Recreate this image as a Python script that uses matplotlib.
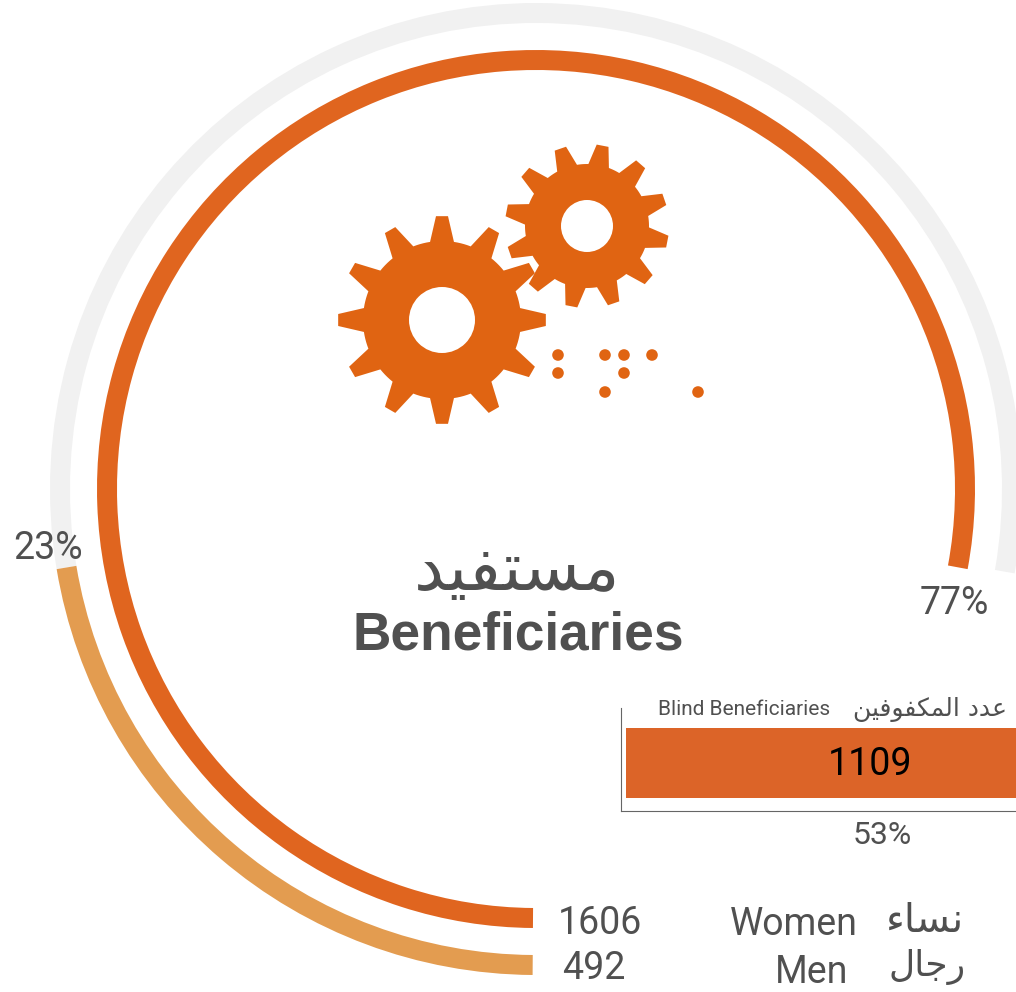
import numpy as np
import matplotlib
matplotlib.use('Agg')
import matplotlib.pyplot as plt
from matplotlib.patches import Wedge, Circle, Polygon

W = 1016
H = 992

# values
women = 1606
men = 492
blind = 1109
women_pct = '77%'
men_pct = '23%'
blind_pct = '53%'

# what a full turn of each ring stands for, read from where the arcs stop
women_ring_max = 2064
men_ring_max = 2211

# arabic in visual order, matplotlib does not shape it
ar_title = '\ufee3\ufeb4\ufe98\ufed4\ufef4\ufeaa'[::-1]
ar_blind = '\ufecb\ufeaa\ufea9 \ufe8d\ufedf\ufee4\ufedc\ufed4\ufeee\ufed3\ufef4\ufee6'[::-1]
ar_women = '\ufee7\ufeb4\ufe8e\ufe80'[::-1]
ar_men = '\ufead\ufe9f\ufe8e\ufedd'[::-1]

dots = [(558,355),(605,355),(624,355),(652,355),(558,373),(624,373),(605,392),(698,392)]

c_women = '#E0651F'
c_men = '#E39C50'
c_track = '#F1F1F1'
c_gear = '#E06412'
c_bar = '#DC6428'
c_text = '#505050'

def fy(y):
	return H - y

def gear(cx, cy, r_tip, r_root, tip_w, root_w, offset, teeth=12):
	pts = []
	for i in range(teeth):
		a = np.radians(offset + i*360.0/teeth)
		next_a = np.radians(offset + (i+1)*360.0/teeth)
		da_root = root_w/r_root
		da_tip = tip_w/r_tip
		pts.append((cx + r_root*np.cos(a-da_root), fy(cy) + r_root*np.sin(a-da_root)))
		pts.append((cx + r_tip*np.cos(a-da_tip), fy(cy) + r_tip*np.sin(a-da_tip)))
		pts.append((cx + r_tip*np.cos(a+da_tip), fy(cy) + r_tip*np.sin(a+da_tip)))
		pts.append((cx + r_root*np.cos(a+da_root), fy(cy) + r_root*np.sin(a+da_root)))
		# root follows the circle up to the next tooth
		for t in np.linspace(a+da_root, next_a-da_root, 6)[1:-1]:
			pts.append((cx + r_root*np.cos(t), fy(cy) + r_root*np.sin(t)))
	return Polygon(pts, closed=True, fc=c_gear, ec='none')

fig = plt.figure(figsize=(W/100, H/100), dpi=100)
ax = fig.add_axes([0, 0, 1, 1])
ax.set_xlim(0, W)
ax.set_ylim(0, H)
ax.axis('off')

cx = 536
cy = 489
start = 269.6

# rings
men_sweep = 360.0*men/men_ring_max
women_sweep = 360.0*women/women_ring_max
ax.add_patch(Wedge((cx, fy(cy)), 486, -10, start-men_sweep, width=20, fc=c_track, ec='none'))
ax.add_patch(Wedge((cx, fy(cy)), 486, start-men_sweep, start, width=20, fc=c_men, ec='none'))
ax.add_patch(Wedge((cx, fy(cy)), 439, start-women_sweep, start, width=20, fc=c_women, ec='none'))

# gears
ax.add_patch(gear(442, 320, 104, 79, 6, 12, 90))
ax.add_patch(Circle((442, fy(320)), 33, fc='white', ec='none'))
ax.add_patch(gear(587, 226, 82, 62, 6, 10.5, -11))
ax.add_patch(Circle((587, fy(226)), 26, fc='white', ec='none'))
for x, y in dots:
	ax.add_patch(Circle((x, fy(y)), 5.8, fc=c_gear, ec='none'))

# small bar
left = 620.5
right = 1016
bottom = 811
top = 708
bax = fig.add_axes([left/W, (H-bottom)/H, (right-left)/W, (bottom-top)/H])
bax.patch.set_alpha(0)
x_per_px = blind/(right-626.0)
bax.set_xlim(-(626-left)*x_per_px, blind)
bax.set_ylim(bottom, top)
bax.barh(763, blind, height=70, color=c_bar)
bax.set_xticks([])
bax.set_yticks([])
bax.spines['top'].set_visible(False)
bax.spines['right'].set_visible(False)
bax.spines['left'].set_color('#666666')
bax.spines['bottom'].set_color('#666666')

def label(x, y, s, size, ha='left', color=c_text, family='Roboto', weight='normal'):
	bax.text(x, fy(y), s, fontsize=size, ha=ha, va='baseline', color=color,
		family=family, fontweight=weight, transform=ax.transData, clip_on=False)

label(518.5, 650, 'Beneficiaries', 38.3, ha='center', family='Liberation Sans', weight='bold')
label(517.5, 590, ar_title, 48.5, ha='center', family='DejaVu Sans')

label(954, 614, women_pct, 27, ha='center')
label(48.5, 559, men_pct, 27, ha='center')
label(882.5, 844, blind_pct, 23, ha='center')
label(870, 775, str(blind), 27, ha='center', color='black')

label(744.5, 715, 'Blind Beneficiaries', 15, ha='center')
label(930, 716, ar_blind, 18, ha='center', family='DejaVu Sans')

label(600, 934, str(women), 27, ha='center')
label(594, 979, str(men), 27, ha='center')
label(793.5, 935, 'Women', 27, ha='center')
label(812, 983, 'Men', 27, ha='center')
label(924.5, 932, ar_women, 29, ha='center', family='DejaVu Sans')
label(927.5, 976, ar_men, 26, ha='center', family='DejaVu Sans')

plt.savefig('out.png', dpi=100)
